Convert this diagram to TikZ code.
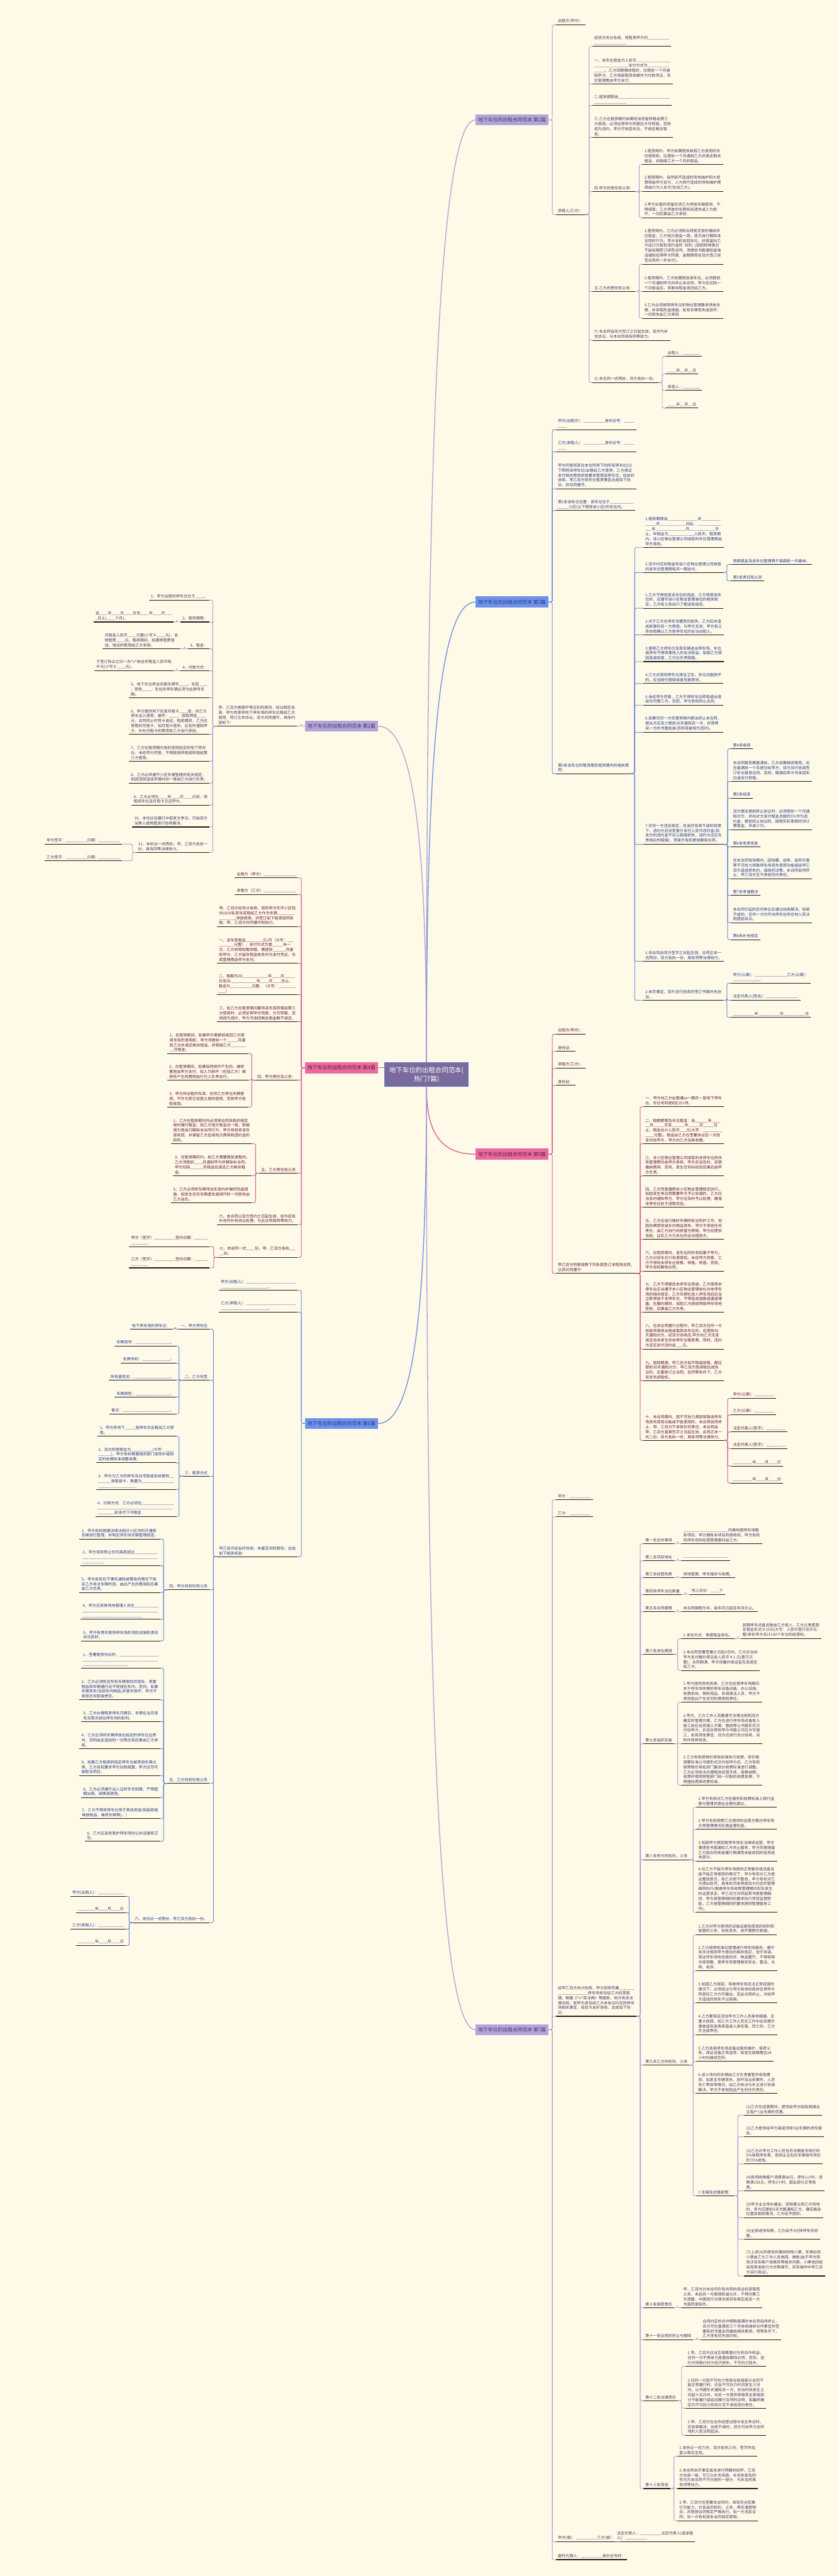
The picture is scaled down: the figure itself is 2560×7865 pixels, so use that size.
\documentclass[tikz,border=0pt]{standalone}
\usepackage{fontspec}
\usepackage{varwidth}
\setmainfont{Noto Sans CJK SC}
\XeTeXlinebreaklocale "zh"
\XeTeXlinebreakskip=0pt plus 1pt

\definecolor{bgcream}{HTML}{FFF9E8}
\definecolor{rootfill}{HTML}{7A6A9E}
\definecolor{rootline}{HTML}{5D7FD8}
\definecolor{lavfill}{HTML}{B3A5DA}
\definecolor{lavline}{HTML}{ADA1D8}
\definecolor{lavtext}{HTML}{3F3766}
\definecolor{bluefill}{HTML}{6E92EA}
\definecolor{blueline}{HTML}{6C8DDB}
\definecolor{bluetext}{HTML}{23398A}
\definecolor{pinkfill}{HTML}{EB6A9E}
\definecolor{pinkline}{HTML}{D6609A}
\definecolor{pinktext}{HTML}{5E1B3C}
\definecolor{uline}{HTML}{1E1E1E}

\newcommand\rootfont{\fontsize{20}{27}\selectfont}
\newcommand\topicfont{\fontsize{15}{18}\selectfont}
\newcommand\leaffont{\fontsize{11.7}{15}\selectfont}
% blank line of n underscores, breakable anywhere
\newcommand\bk[1]{\ifnum#1>0 \_\allowbreak\expandafter\bk\expandafter{\the\numexpr#1-1\relax}\fi}

\tikzset{
  rootnode/.style = {
    rectangle, draw=rootline, line width=1.5pt, fill=rootfill,
    text=white, font=\rootfont, align=center,
    minimum width=255pt, minimum height=73pt
  },
  topicnode/.style = {
    rectangle, font=\topicfont, minimum width=223pt,
    minimum height=34pt, inner xsep=7pt, inner ysep=4pt
  },
  lavtopic/.style  = {topicnode, fill=lavfill, text=lavtext},
  bluetopic/.style = {topicnode, fill=bluefill, text=bluetext},
  pinktopic/.style = {topicnode, fill=pinkfill, text=pinktext},
  leaf/.style = {
    font=\leaffont, inner xsep=6pt, inner ysep=5pt,
    execute at begin node={\begin{varwidth}{235pt}\raggedright},
    execute at end node={\end{varwidth}},
    append after command={(\tikzlastnode.south west)
      edge[draw=uline, line width=2pt] (\tikzlastnode.south east)}
  },
  lavr/.style  = {leaf, anchor=south west, text=lavtext},
  lavl/.style  = {leaf, anchor=south east, text=lavtext},
  bluer/.style = {leaf, anchor=south west, text=bluetext},
  bluel/.style = {leaf, anchor=south east, text=bluetext},
  pinkr/.style = {leaf, anchor=south west, text=pinktext},
  pinkl/.style = {leaf, anchor=south east, text=pinktext},
  rlink/.style = {draw=#1, line width=1.8pt, rounded corners=5pt,
    to path={-- ++(11,0) |- (\tikztotarget)}},
  llink/.style = {draw=#1, line width=1.8pt, rounded corners=5pt,
    to path={-- ++(-11,0) |- (\tikztotarget)}},
  mainlink/.style = {draw=#1, line width=2.5pt}
}

\begin{document}
\begin{tikzpicture}[x=1pt, y=-1pt]
  \fill[bgcream] (0,0) rectangle (2560,7865);
  \useasboundingbox (0,0) rectangle (2560,7865);

  % Root and the seven topics
  \node[rootnode] (root) at (1302,3281) {地下车位的出租合同范本(\\热门7篇)};
  \node[lavtopic,  anchor=east] (t1) at (1675,366)  {地下车位的出租合同范本 第1篇};
  \node[lavtopic,  anchor=west] (t2) at (931,2217)  {地下车位的出租合同范本 第2篇};
  \node[bluetopic, anchor=east] (t3) at (1675,1838) {地下车位的出租合同范本 第3篇};
  \node[pinktopic, anchor=west] (t4) at (931,3260)  {地下车位的出租合同范本 第4篇};
  \node[pinktopic, anchor=east] (t5) at (1675,3524) {地下车位的出租合同范本 第5篇};
  \node[bluetopic, anchor=west] (t6) at (931,4346)  {地下车位的出租合同范本 第6篇};
  \node[lavtopic,  anchor=east] (t7) at (1675,6197) {地下车位的出租合同范本 第7篇};

  \draw[mainlink=lavline]  (root.north) .. controls +(0,-1700) and +(-120,0) .. (t1.west);
  \draw[mainlink=blueline] (root.north) .. controls +(0,-850) and +(-120,0) .. (t3.west);
  \draw[mainlink=lavline]  (root.north) .. controls +(0,-600) and +(120,0) .. (t2.east);
  \draw[mainlink=pinkline] (t4.east) -- (t4.east -| root.west);
  \draw[mainlink=pinkline] (root.south) .. controls +(0,120) and +(-120,0) .. (t5.west);
  \draw[mainlink=blueline] (root.south) .. controls +(0,600) and +(120,0) .. (t6.east);
  \draw[mainlink=lavline]  (root.south) .. controls +(0,1700) and +(-120,0) .. (t7.west);

  % ---------------- 第1篇
  \node[lavr] (t1a) at (1697,76)  {出租方(甲方)：};
  \node[lavr] (t1b) at (1697,655) {承租人(乙方)：};
  \node[lavr] (t1b1) at (1808,142) {经双方充分协商，现租赁甲方的\bk{25}};
  \node[lavr] (t1b2) at (1808,256) {一、本车位租金为人民币\bk{32}支付方式为\bk{15}。乙方到期需续租的，应提前一个月通知甲方。乙方保留租赁收据作为付款凭证，车位管理费由甲方支付..};
  \node[lavr] (t1b3) at (1808,322) {二.租赁期限自\bk{39}};
  \node[lavr] (t1b4) at (1808,419) {三.乙方在租赁期内如需将该房屋转租给第三方使用，必须征得甲方同意后方可转租，否则视为违约，甲方可收回车位，不退还剩余租金。};
  \node[lavr] (t1b5) at (1808,585) {四.甲方的责任和义务：};
  \node[lavr] (t1b6) at (1808,890) {五.乙方的责任和义务：};
  \node[lavr] (t1b7) at (1808,1039) {六.本合同自双方签订之日起生效，现作为补充协议，与本合同具有同等效力。};
  \node[lavr] (t1b8) at (1808,1168) {七.本合同一式两份，双方各执一份。};
  \node[lavr] (t1b5a) at (1961,502) {1.租赁期内，甲方如需提前收回乙方使用的车位使用权，应提前一个月通知乙方并退还剩余租金，并赔偿乙方一个月的租金。};
  \node[lavr] (t1b5b) at (1961,584) {2.租赁期内，自然损坏造成的场地维护和大修费用由甲方支付，人为损坏造成的场地维护费用由行为人支付(包括乙方)。};
  \node[lavr] (t1b5c) at (1961,665) {3.甲方出租的房屋仅供乙方停放车辆使用，不得保管；乙方停放的车辆如有遗失或人为损坏，一切后果由乙方承担..};
  \node[lavr] (t1b6a) at (1961,807) {1.租赁期内，乙方必须按合同规定按时缴纳车位租金；乙方拖欠租金一周，视为自行解除本合同的行为。甲方有权收回车位，并保留向乙方追讨欠款和违约金的\textasciigrave{}权利..(如因特殊情况不能如期签订续签合同，须提前书面通知或电话通知征得甲方同意，逾期费用在双方签订续签合同时一并支付)。};
  \node[lavr] (t1b6b) at (1961,890) {2.租赁期内，乙方如需提前退车位，必须提前一个月通知甲方并终止本合同，甲方在扣除一个月租金后，将剩余租金退还给乙方。};
  \node[lavr] (t1b6c) at (1961,972) {3.乙方必须按照停车位和物业管理要求停放车辆，并采取防盗措施。如有车辆丢失或损坏，一切损失由乙方承担..};
  \node[lavr] (t1b8a) at (2032,1088) {出租人：\bk{8}};
  \node[lavr] (t1b8b) at (2032,1142) {\bk{4}年\bk{2}月\bk{2}日};
  \node[lavr] (t1b8c) at (2032,1192) {承租人：\bk{8}};
  \node[lavr] (t1b8d) at (2032,1246) {\bk{4}年\bk{2}月\bk{2}日};

  \path (t1.east) edge[rlink=lavline] (t1a.south west) edge[rlink=lavline] (t1b.south west);
  \path (t1b.south east)
    edge[rlink=lavline] (t1b1.south west) edge[rlink=lavline] (t1b2.south west)
    edge[rlink=lavline] (t1b3.south west) edge[rlink=lavline] (t1b4.south west)
    edge[rlink=lavline] (t1b5.south west) edge[rlink=lavline] (t1b6.south west)
    edge[rlink=lavline] (t1b7.south west) edge[rlink=lavline] (t1b8.south west);
  \path (t1b5.south east) edge[rlink=lavline] (t1b5a.south west)
    edge[rlink=lavline] (t1b5b.south west) edge[rlink=lavline] (t1b5c.south west);
  \path (t1b6.south east) edge[rlink=lavline] (t1b6a.south west)
    edge[rlink=lavline] (t1b6b.south west) edge[rlink=lavline] (t1b6c.south west);
  \path (t1b8.south east) edge[rlink=lavline] (t1b8a.south west)
    edge[rlink=lavline] (t1b8b.south west) edge[rlink=lavline] (t1b8c.south west)
    edge[rlink=lavline] (t1b8d.south west);

  % ---------------- 第2篇
  \node[lavl] (t2a) at (907,2217) {甲、乙双方根据平等互利的原则，经过相互协商，甲方同意将地下停车场的停车位租给乙方使用，特订立本协议，双方共同遵守，具体内容如下：};
  \node[lavl] (t2a1) at (640,1832) {1、甲方出租的停车位位于\bk{4}。};
  \node[lavl] (t2a2) at (640,1899) {2、租赁期限：};
  \node[lavl] (t2a2x) at (530,1899) {自\bk{4}年\bk{4}月\bk{4}日至\bk{4}年\bk{4}月\bk{4}日止(\bk{4}个月)。};
  \node[lavl] (t2a3) at (640,1981) {3、租金：};
  \node[lavl] (t2a3x) at (550,1981) {月租金人民币\bk{4}元整(小写￥\bk{4}元)，含物管费\bk{4}元。租用期间，如遇物管费增加，增加的费用由乙方承担。};
  \node[lavl] (t2a4) at (640,2048) {4、付款方式：};
  \node[lavl] (t2a4x) at (530,2048) {于签订协议之日一次\textasciicircum{}v\textasciicircum{}纳全年租金人民币陆仟元(小写￥\bk{4}元)。};
  \node[lavl] (t2a5) at (640,2130) {5、地下车位停泊车辆车牌号\bk{4}，车型\bk{4}，颜色\bk{4}，车位所停车辆必须为此牌号车辆。};
  \node[lavl] (t2a6) at (640,2242) {6、甲方提供地下车库月租卡\bk{4}张，供乙方停车出入使用，编号：\bk{4}，收取押金\bk{4}元，合同终止时凭卡退还。租用期间，乙方应保管好月租卡，如月租卡遗失，应及时通知甲方，补办月租卡的费用有乙方自行承担。};
  \node[lavl] (t2a7) at (640,2324) {7、乙方在租用期内有权使用指定的地下停车位，未经甲方同意，不得随意转租或转借给第三方使用。};
  \node[lavl] (t2a8) at (640,2391) {8、乙方必须遵守小区车辆管理的有关规定，如因违规造成矛盾纠纷一律由乙方自行负责。};
  \node[lavl] (t2a9) at (640,2458) {9、乙方必须在\bk{4}年\bk{4}月\bk{4}日前，将租用车位及月租卡交还甲方。};
  \node[lavl] (t2a10) at (640,2525) {10、本协议在履行中若发生争议，可由双方当事人或物管进行协商解决。};
  \node[lavl] (t2a11) at (640,2603) {11、本协议一式两份，甲、乙双方各执一份，具有同等法律效力。};
  \node[lavl] (t2a11a) at (373,2577) {甲方签字：\bk{10}日期：\bk{10}};
  \node[lavl] (t2a11b) at (373,2628) {乙方签字：\bk{10}日期：\bk{10}};

  \path (t2.west) edge[llink=lavline] (t2a.south east);
  \path (t2a.south west)
    edge[llink=lavline] (t2a1.south east) edge[llink=lavline] (t2a2.south east)
    edge[llink=lavline] (t2a3.south east) edge[llink=lavline] (t2a4.south east)
    edge[llink=lavline] (t2a5.south east) edge[llink=lavline] (t2a6.south east)
    edge[llink=lavline] (t2a7.south east) edge[llink=lavline] (t2a8.south east)
    edge[llink=lavline] (t2a9.south east) edge[llink=lavline] (t2a10.south east)
    edge[llink=lavline] (t2a11.south east);
  \path (t2a2.south west) edge[llink=lavline] (t2a2x.south east);
  \path (t2a3.south west) edge[llink=lavline] (t2a3x.south east);
  \path (t2a4.south west) edge[llink=lavline] (t2a4x.south east);
  \path (t2a11.south west) edge[llink=lavline] (t2a11a.south east)
    edge[llink=lavline] (t2a11b.south east);

  % ---------------- 第3篇
  \node[bluer] (t3a) at (1697,1312) {甲方(出租方)：\bk{10}身份证号：\bk{9}};
  \node[bluer] (t3b) at (1697,1379) {乙方(承租人)：\bk{10}身份证号：\bk{9}};
  \node[bluer] (t3c) at (1697,1492) {甲方同意将其在本合同项下的所有停车位(以下简称该停车位)出租给乙方使用，乙方保证支付相关费用并按要求使用该停车位。经友好协商，甲乙双方就车位租赁事宜达成如下协议，并共同遵守。};
  \node[bluer] (t3d) at (1697,1559) {第1条该车位位置：该车位位于\bk{16}小区(以下简称该小区)的车位内。};
  \node[bluer] (t3e) at (1697,2362) {第2条该车位的租赁期及租赁期内的相关费用：};
  \node[bluer] (t3e1) at (1964,1671) {1.租赁期限自\bk{14}年\bk{14}月\bk{12}日起，\bk{14}年\bk{14}月\bk{12}日止，年租金为\bk{12}人民币。租赁期内，该小区物业管理公司收取的车位管理费由甲方承担。};
  \node[bluer] (t3e2) at (1964,1748) {2.双方约定的租金和该小区物业管理公司收取的该车位管理费每月一期支付。};
  \node[bluer] (t3e3) at (1964,1857) {1.乙方不得改变该车位的用途。乙方使用该车位时，应遵守该小区物业管理单位的相关规定，乙方有义务自行了解这些规定。};
  \node[bluer] (t3e4) at (1964,1938) {2.对于乙方在停车场遭受的损失，乙方应向造成损害的另一方索赔，与甲方无关；甲方有义务协助确认乙方是停车位的合法出租人。};
  \node[bluer] (t3e5) at (1964,2020) {3.使用乙方停车位及其车辆进出停车场、车位或停车不得损害他人的合法权益。如因乙方原因造成损害，乙方应负责赔偿。};
  \node[bluer] (t3e6) at (1964,2087) {4.乙方应保持停车位清洁卫生。车位设施损坏的，应当按价赔偿或者恢复原状。};
  \node[bluer] (t3e7) at (1964,2153) {5.未经甲方同意，乙方不得将车位转租或出借给任何第三方。否则，甲方有权终止合同。};
  \node[bluer] (t3e8) at (1964,2236) {6.如果任何一方在租赁期内提出终止本合同，提出方应至少提前30天通知另一方，并获得另一方的书面批准(否则将被视为违约)。};
  \node[bluer] (t3e9) at (1964,2578) {7.任何一方违反规定，在友好协商不成的前提下，违约方应向受害方支付人民币违约金(如支付的违约金不足以赔偿损失，违约方还应负责相应的赔偿)，受害方有权提前解除合同。};
  \node[bluer] (t3e10) at (1964,2935) {1.本合同自双方签字之日起生效，合同正本一式两份，双方各执一份，具有同等法律效力。};
  \node[bluer] (t3e11) at (1964,3054) {2.未尽事宜，双方另行协商并签订书面补充协议。};
  \node[bluer] (t3e2a) at (2232,1723) {首期租金及该车位管理费于每期前一天缴纳。};
  \node[bluer] (t3e2b) at (2232,1774) {第3条责任和义务};
  \node[bluer] (t3e9a) at (2232,2286) {第4条继续};
  \node[bluer] (t3e9b) at (2232,2386) {本合同服务期届满前，乙方如需继续使用，应在届满前一个月提交给甲方，双方另行协商签订车位租赁合同。否则，期满后甲方可收回车位或另行转租。};
  \node[bluer] (t3e9c) at (2232,2437) {第5条结束};
  \node[bluer] (t3e9d) at (2232,2533) {双方提出提前终止协议时，必须提前一个月通知对方，并向对方支付租金总额的5\%作为违约金。提前终止协议的，按照实际使用时间计算租金，多退少付。};
  \node[bluer] (t3e9e) at (2232,2586) {第6条免责条款};
  \node[bluer] (t3e9f) at (2232,2683) {在本合同有效期内，因地震、战争、自然灾害等不可抗力导致停车场丧失使用功能或给甲乙双方造成损失的。或政府决策，本合同自然终止，甲乙双方互不承担任何责任。};
  \node[bluer] (t3e9g) at (2232,2734) {第7条争端解决};
  \node[bluer] (t3e9h) at (2232,2817) {本合同引起的任何争议应通过协商解决。协商不成的，任何一方均可向停车位所在地人民法院提起诉讼。};
  \node[bluer] (t3e9i) at (2232,2869) {第8条补充规定};
  \node[bluer] (t3e11a) at (2232,3002) {甲方(公章)：\bk{15}乙方(公章)：\bk{13}};
  \node[bluer] (t3e11b) at (2232,3054) {法定代表人(签名)：\bk{15}};
  \node[bluer] (t3e11c) at (2232,3106) {\bk{10}年\bk{10}月\bk{10}日};

  \path (t3.east)
    edge[rlink=blueline] (t3a.south west) edge[rlink=blueline] (t3b.south west)
    edge[rlink=blueline] (t3c.south west) edge[rlink=blueline] (t3d.south west)
    edge[rlink=blueline] (t3e.south west);
  \path (t3e.south east)
    edge[rlink=blueline] (t3e1.south west) edge[rlink=blueline] (t3e2.south west)
    edge[rlink=blueline] (t3e3.south west) edge[rlink=blueline] (t3e4.south west)
    edge[rlink=blueline] (t3e5.south west) edge[rlink=blueline] (t3e6.south west)
    edge[rlink=blueline] (t3e7.south west) edge[rlink=blueline] (t3e8.south west)
    edge[rlink=blueline] (t3e9.south west) edge[rlink=blueline] (t3e10.south west)
    edge[rlink=blueline] (t3e11.south west);
  \path (t3e2.south east) edge[rlink=blueline] (t3e2a.south west)
    edge[rlink=blueline] (t3e2b.south west);
  \path (t3e9.south east)
    edge[rlink=blueline] (t3e9a.south west) edge[rlink=blueline] (t3e9b.south west)
    edge[rlink=blueline] (t3e9c.south west) edge[rlink=blueline] (t3e9d.south west)
    edge[rlink=blueline] (t3e9e.south west) edge[rlink=blueline] (t3e9f.south west)
    edge[rlink=blueline] (t3e9g.south west) edge[rlink=blueline] (t3e9h.south west)
    edge[rlink=blueline] (t3e9i.south west);
  \path (t3e11.south east) edge[rlink=blueline] (t3e11a.south west)
    edge[rlink=blueline] (t3e11b.south west) edge[rlink=blueline] (t3e11c.south west);

  % ---------------- 第4篇
  \node[pinkl] (t4a) at (909,2680) {出租方（甲方）\bk{15}};
  \node[pinkl] (t4b) at (909,2731) {承租方（乙方）\bk{15}};
  \node[pinkl] (t4c) at (909,2829) {甲、乙双方经充分协商，现将甲方东环小区院内101\#私家车库租给乙方作为车辆\bk{16}停放使用，并签订如下租赁保同条款，甲、乙双方共同遵守和执行。};
  \node[pinkl] (t4d) at (909,2941) {一、该车库租金\bk{8}元/月（大写：\bk{10}元整），支付方式为壹\bk{5}年一交，乙方到期如需续租、需提前\bk{6}月通知甲方，乙方留存租金收条作为支付凭证，车库管理费由甲方支付。};
  \node[pinkl] (t4e) at (909,3037) {二、租期为20\bk{12}年\bk{4}月\bk{5}日至20\bk{12}年\bk{4}月\bk{4}日止，租金为\bk{10}元整，（大写：\bk{11}）};
  \node[pinkl] (t4f) at (909,3119) {三、如乙方在租赁期间要将该车库转租给第三方使用时，必须征得甲方同意，方可转租，否则视为违约，甲方可收回剩余租金概不退还。};
  \node[pinkl] (t4g) at (909,3298) {四、甲方责任及义务：};
  \node[pinkl] (t4h) at (909,3582) {五、乙方责任和义务};
  \node[pinkl] (t4i) at (909,3739) {六、本合同以双方签约之日起生效，如今后有补充作补充协议处理，与此合同具同等效力。};
  \node[pinkl] (t4j) at (909,3839) {七、本合同一式\bk{4}份，甲、乙双方各执\bk{5}份。};
  \node[pinkl] (t4g1) at (757,3217) {1、在租赁期间，如果甲方需提前收回乙方使用车库的使用权，甲方须提前一个\bk{5}月通知乙方并退还剩余租金，并赔偿乙方\bk{9}月租金。};
  \node[pinkl] (t4g2) at (757,3298) {2、在租赁期间，如果自然损坏产生的。维修费用由甲方支付，如人为损坏（包括乙方）维修所产生的费用由行为人负责支付。};
  \node[pinkl] (t4g3) at (757,3380) {3、甲方所出租的车库，仅供乙方停泊车辆使用，不作为其它经营之类的使用，否则甲方有权收回。};
  \node[pinkl] (t4h1) at (769,3492) {1、乙方在租赁期间内必须按合同条款的规定按时缴付租金；如乙方拖欠租金达一周，即被视为是自行解除本合同行为，甲方有权将该车库收回，并保留乙方追收拖欠费用和违约金的权利。};
  \node[pinkl] (t4h2) at (769,3589) {2、在租赁期间内，如乙方需要提前退租的，乙方须提前\bk{4}月通知甲方并解除本合同，甲方扣除\bk{6}月租金后退还乙方剩余租金。};
  \node[pinkl] (t4h3) at (769,3672) {3、乙方必须将车辆停泊车库内并做好防盗措施，如发生任何车辆遗失或损坏的一切损失由乙方自负。};
  \node[pinkl] (t4j1) at (640,3806) {甲方（签字）\bk{10}签约日期：\bk{14}};
  \node[pinkl] (t4j2) at (640,3871) {乙方（签字）\bk{10}签约日期：\bk{14}};

  \path (t4.west)
    edge[llink=pinkline] (t4a.south east) edge[llink=pinkline] (t4b.south east)
    edge[llink=pinkline] (t4c.south east) edge[llink=pinkline] (t4d.south east)
    edge[llink=pinkline] (t4e.south east) edge[llink=pinkline] (t4f.south east)
    edge[llink=pinkline] (t4g.south east) edge[llink=pinkline] (t4h.south east)
    edge[llink=pinkline] (t4i.south east) edge[llink=pinkline] (t4j.south east);
  \path (t4g.south west) edge[llink=pinkline] (t4g1.south east)
    edge[llink=pinkline] (t4g2.south east) edge[llink=pinkline] (t4g3.south east);
  \path (t4h.south west) edge[llink=pinkline] (t4h1.south east)
    edge[llink=pinkline] (t4h2.south east) edge[llink=pinkline] (t4h3.south east);
  \path (t4j.south west) edge[llink=pinkline] (t4j1.south east)
    edge[llink=pinkline] (t4j2.south east);

  % ---------------- 第5篇
  \node[pinkr] (t5a) at (1697,3158) {出租方(甲方)：};
  \node[pinkr] (t5b) at (1697,3210) {身份证：};
  \node[pinkr] (t5c) at (1697,3262) {承租方(乙方)：};
  \node[pinkr] (t5d) at (1697,3314) {身份证：};
  \node[pinkr] (t5e) at (1697,3888) {甲乙双方同意按照下列条款签订本租赁合同，以资共同遵守：};
  \node[pinkr] (t5e1) at (1964,3379) {一、甲方向乙方出租通xx一期负一层地下停车位，车位号码是B区251号。};
  \node[pinkr] (t5e2) at (1964,3492) {二、租期期限及车位租金：自\bk{6}年\bk{6}月\bk{5}日至\bk{6}年\bk{5}月\bk{5}日止，租金合计人民币\bk{3}元(大写：\bk{13}元整)。租金由乙方在签署协议后一次性支付给甲方，甲方向乙方出具收据。};
  \node[pinkr] (t5e3) at (1964,3590) {三、本小区物业管理公司收取的本停车位的所有管理费均由甲方承担，甲方应当及时、足额缴纳费用，否则，发生任何纠纷及后果应由甲方负责。};
  \node[pinkr] (t5e4) at (1964,3686) {四、乙方同意遵照本小区物业管理规定执行。如因发生争议而需要甲方予以协调的，乙方应当及时通知甲方，甲方应及时予以处理，确保本停车位处于适租状态。};
  \node[pinkr] (t5e5) at (1964,3784) {五、乙方应自行做好车辆的安全防护工作，如因车辆受损或车内物品丢失，甲方不承担任何责任，由乙方自行向损害方索赔，甲方应提供协助，证实乙方为车位的合法租赁方。};
  \node[pinkr] (t5e6) at (1964,3881) {六、在租赁期内，该车位的所有权属于甲方。乙方对该车位只有使用权。未经甲方同意，乙方不得将本停车位转售、转租、转借。否则，甲方有权解除合同。};
  \node[pinkr] (t5e7) at (1964,4007) {七、乙方不得更改本停车位用途。乙方使用本停车位应当遵守本小区物业管理单位对本停车场的相关规定，乙方车辆在进入停车场后应当立即停放于本停车位，不得造成道路或通道堵塞。在履约期间，如因乙方原因导致停车场地受损，后果由乙方负责。};
  \node[pinkr] (t5e8) at (1964,4119) {八、在本合同履行过程中，甲乙双方任何一方如放弃继续出租或租用本车位的，应提前30天通知对方。经双方协商后,甲方向乙方无息退还尚未发生的本停车位租赁费。同时，违约方还应支付违约金\bk{3}元。};
  \node[pinkr] (t5e9) at (1964,4216) {九、租赁期满，甲乙双方如不租或续租，都应提前30天通知对方，甲乙双方就续租达成协议的，应重新订立合同。在同等条件下，乙方有优先续租权。};
  \node[pinkr] (t5e10) at (1964,4398) {十、本合同期内，因不可抗力原因导致该停车场丧失使用功能或不能使用的，本合同自然终止，甲、乙双方不承担任何责任。本合同自甲、乙双方盖章签字之日起生效，合同正本一式二份，双方各执一份，具有同等法律效力。};
  \node[pinkr] (t5e10a) at (2232,4269) {甲方(公章)：\bk{9}};
  \node[pinkr] (t5e10b) at (2232,4320) {乙方(公章)：\bk{9}};
  \node[pinkr] (t5e10c) at (2232,4372) {法定代表人(签字)：\bk{9}};
  \node[pinkr] (t5e10d) at (2232,4423) {法定代表人(签字)：\bk{9}};
  \node[pinkr] (t5e10e) at (2232,4476) {\bk{9}年\bk{4}月\bk{4}日};
  \node[pinkr] (t5e10f) at (2232,4528) {\bk{9}年\bk{4}月\bk{4}日};

  \path (t5.east)
    edge[rlink=pinkline] (t5a.south west) edge[rlink=pinkline] (t5b.south west)
    edge[rlink=pinkline] (t5c.south west) edge[rlink=pinkline] (t5d.south west)
    edge[rlink=pinkline] (t5e.south west);
  \path (t5e.south east)
    edge[rlink=pinkline] (t5e1.south west) edge[rlink=pinkline] (t5e2.south west)
    edge[rlink=pinkline] (t5e3.south west) edge[rlink=pinkline] (t5e4.south west)
    edge[rlink=pinkline] (t5e5.south west) edge[rlink=pinkline] (t5e6.south west)
    edge[rlink=pinkline] (t5e7.south west) edge[rlink=pinkline] (t5e8.south west)
    edge[rlink=pinkline] (t5e9.south west) edge[rlink=pinkline] (t5e10.south west);
  \path (t5e10.south east)
    edge[rlink=pinkline] (t5e10a.south west) edge[rlink=pinkline] (t5e10b.south west)
    edge[rlink=pinkline] (t5e10c.south west) edge[rlink=pinkline] (t5e10d.south west)
    edge[rlink=pinkline] (t5e10e.south west) edge[rlink=pinkline] (t5e10f.south west);

  % ---------------- 第6篇
  \node[bluel] (t6a) at (909,3940) {甲方(出租人)：\bk{45}。};
  \node[bluel] (t6b) at (909,4006) {乙方(承租人)：\bk{45}。};
  \node[bluel] (t6c) at (909,4753) {甲乙双方经友好协商，本着互利的原则，达成如下租赁条款：};
  \node[bluel] (t6c1) at (640,4058) {一、甲方停车位};
  \node[bluel] (t6c1x) at (526,4058) {地下停车场的停车位：};
  \node[bluel] (t6c2) at (640,4214) {二、乙方车型};
  \node[bluel] (t6c2a) at (537,4110) {车辆型号：\bk{16}。};
  \node[bluel] (t6c2b) at (537,4162) {车牌号码：\bk{13}。};
  \node[bluel] (t6c2c) at (537,4214) {所有者姓名：\bk{17}。};
  \node[bluel] (t6c2d) at (537,4266) {车辆颜色：\bk{16}。};
  \node[bluel] (t6c2e) at (537,4317) {备注：\bk{22}。};
  \node[bluel] (t6c3) at (640,4507) {三、租赁方式};
  \node[bluel] (t6c3a) at (537,4385) {1、甲方将地下\bk{5}层停车位出租给乙方使用。};
  \node[bluel] (t6c3b) at (537,4466) {2、双方同意租金为\bk{10}(大写：\bk{10})，甲方有权根据政府部门指导价或规定的收费标准调整收费。};
  \node[bluel] (t6c3c) at (537,4548) {3、甲方为乙方的停车及住宅智能系统提供\bk{8}张智能卡，数量为\bk{33}};
  \node[bluel] (t6c3d) at (537,4630) {4、付款方式：乙方必须在\bk{58}前支付下月租金};
  \node[bluel] (t6c4) at (640,4854) {四、甲方的权利和义务};
  \node[bluel] (t6c4a) at (489,4699) {1、甲方有权根据法律法规对小区内的交通和车辆进行管理，并制定停车场车辆管理规定。};
  \node[bluel] (t6c4b) at (489,4780) {2、甲方有权禁止任何高度超过\bk{56}};
  \node[bluel] (t6c4c) at (489,4862) {3、甲方有权在不事先通知或警告的情况下拖走乙方非法车辆的锁，由此产生的费用和后果由乙方负责。};
  \node[bluel] (t6c4d) at (489,4944) {4、甲方应安排场地管理人员在\bk{74}};
  \node[bluel] (t6c4e) at (489,5010) {5、甲方有责任保持停车场的消防设施和清洁状况良好。};
  \node[bluel] (t6c5) at (640,5445) {五、乙方的权利和义务};
  \node[bluel] (t6c5a) at (489,5093) {1、签署租赁协议时，\bk{74}};
  \node[bluel] (t6c5b) at (489,5190) {2、乙方必须购买所有车辆保险并锁车。贵重物品和车辆通行证不得放在车内。否则，如果车辆丢失(包括车内物品)并意外损坏，甲方不承担任何赔偿责任。};
  \node[bluel] (t6c5c) at (489,5256) {3、乙方办理租赁停车月票后，车辆在当月享有无限次进出停车场的权利。};
  \node[bluel] (t6c5d) at (489,5339) {4、乙方必须将车辆停放在指定的停车位边界内，否则由此造成的一切责任和后果由乙方承担。};
  \node[bluel] (t6c5e) at (489,5421) {5、如果乙方租用的指定停车位被其他车辆占用，乙方有权要求甲方协助疏散，甲方应尽可能配合供应。};
  \node[bluel] (t6c5f) at (489,5488) {6、乙方必须遵守出入证的专车制度。严禁超期出借、调换或使用。};
  \node[bluel] (t6c5g) at (489,5553) {7、乙方不得将停车位用于其他用途(如装卸或堆放物品、维修车辆等)。)};
  \node[bluel] (t6c5h) at (489,5622) {8、乙方应自觉爱护停车场的公共设施和卫生。};
  \node[bluel] (t6c6) at (640,5870) {六、本协议一式两份，甲乙双方各执一份。};
  \node[bluel] (t6c6a) at (384,5790) {甲方(出租人)：\bk{12}};
  \node[bluel] (t6c6b) at (384,5840) {\bk{8}年\bk{4}月\bk{4}日};
  \node[bluel] (t6c6c) at (384,5890) {乙方(承租人)：\bk{12}};
  \node[bluel] (t6c6d) at (384,5940) {\bk{8}年\bk{4}月\bk{4}日};

  \path (t6.west)
    edge[llink=blueline] (t6a.south east) edge[llink=blueline] (t6b.south east)
    edge[llink=blueline] (t6c.south east);
  \path (t6c.south west)
    edge[llink=blueline] (t6c1.south east) edge[llink=blueline] (t6c2.south east)
    edge[llink=blueline] (t6c3.south east) edge[llink=blueline] (t6c4.south east)
    edge[llink=blueline] (t6c5.south east) edge[llink=blueline] (t6c6.south east);
  \path (t6c1.south west) edge[llink=blueline] (t6c1x.south east);
  \path (t6c2.south west)
    edge[llink=blueline] (t6c2a.south east) edge[llink=blueline] (t6c2b.south east)
    edge[llink=blueline] (t6c2c.south east) edge[llink=blueline] (t6c2d.south east)
    edge[llink=blueline] (t6c2e.south east);
  \path (t6c3.south west)
    edge[llink=blueline] (t6c3a.south east) edge[llink=blueline] (t6c3b.south east)
    edge[llink=blueline] (t6c3c.south east) edge[llink=blueline] (t6c3d.south east);
  \path (t6c4.south west)
    edge[llink=blueline] (t6c4a.south east) edge[llink=blueline] (t6c4b.south east)
    edge[llink=blueline] (t6c4c.south east) edge[llink=blueline] (t6c4d.south east)
    edge[llink=blueline] (t6c4e.south east);
  \path (t6c5.south west)
    edge[llink=blueline] (t6c5a.south east) edge[llink=blueline] (t6c5b.south east)
    edge[llink=blueline] (t6c5c.south east) edge[llink=blueline] (t6c5d.south east)
    edge[llink=blueline] (t6c5e.south east) edge[llink=blueline] (t6c5f.south east)
    edge[llink=blueline] (t6c5g.south east) edge[llink=blueline] (t6c5h.south east);
  \path (t6c6.south west)
    edge[llink=blueline] (t6c6a.south east) edge[llink=blueline] (t6c6b.south east)
    edge[llink=blueline] (t6c6c.south east) edge[llink=blueline] (t6c6d.south east);

  % ---------------- 第7篇
  \node[lavr] (t7a) at (1697,4579) {甲方：\bk{10}};
  \node[lavr] (t7b) at (1697,4631) {乙方：\bk{10}};
  \node[lavr] (t7c) at (1697,6156) {经甲乙双方充分协商，甲方现将所属\bk{21}停车场承包给乙方经营管理。根据《\textasciicircum{}v\textasciicircum{}民法典》等国家、地方有关法律法规，就甲方承包给乙方本协议约定的停车场相关事宜，经双方友好协商，达成如下协议：};
  \node[lavr] (t7d) at (1697,7761) {甲方(章)：\bk{10}乙方(章)：};
  \node[lavr] (t7e) at (1697,7815) {委托代理人：\bk{10}身份证号码：};
  \node[lavr] (t7dx) at (1877,7761) {法定代表人：\bk{10}法定代表人(或承租人)：\bk{10}};

  \node[lavr] (t7c1) at (1964,4713) {第一条合作事项};
  \node[lavr] (t7c2) at (1964,4765) {第二条项目地址};
  \node[lavr] (t7c3) at (1964,4817) {第三条经营性质};
  \node[lavr] (t7c4) at (1964,4868) {第四条停车泊位数量};
  \node[lavr] (t7c5) at (1964,4921) {第五条合同期限};
  \node[lavr] (t7c6) at (1964,5051) {第六条承包费用};
  \node[lavr] (t7c7) at (1964,5324) {第七条组织实施};
  \node[lavr] (t7c8) at (1964,5678) {第八条甲方的权利、义务};
  \node[lavr] (t7c9) at (1964,6305) {第九条乙方的权利、义务};
  \node[lavr] (t7c10) at (1964,7046) {第十条保密责任};
  \node[lavr] (t7c11) at (1964,7143) {第十一条合同的终止与解除};
  \node[lavr] (t7c12) at (1964,7330) {第十二条法律责任};
  \node[lavr] (t7c13) at (1964,7598) {第十三条其他};

  \node[lavr] (t7c1x) at (2080,4713) {\bk{21}所属地面停车场服务项目，甲方拥有本项目的使用权，甲方有权将停车场的经营管理委托给乙方。};
  \node[lavr] (t7c2x) at (2080,4765) {\bk{21}};
  \node[lavr] (t7c3x) at (2080,4817) {场地管理、停车服务与收费。};
  \node[lavr] (t7c4x) at (2105,4868) {地上泊位：\bk{4}个};
  \node[lavr] (t7c5x) at (2080,4921) {本合同期限为年，自年月日起至年月日止。};
  \node[lavr] (t7c6a) at (2080,5003) {1.承包方式：季度租金承包。};
  \node[lavr] (t7c6ax) at (2261,5003) {前期停车设备设施由乙方投入，乙方以季度固定租金形式￥15元(大写：人民币壹万伍仟元整)承包甲方总计143个车位的经营权。};
  \node[lavr] (t7c6b) at (2080,5100) {2.本合同签署签署之日起3日内，乙方应当向甲方支付履约保证金人民币￥1.元(壹万元整)，合同期满，甲方将履约保证金无息退还给乙方。};
  \node[lavr] (t7c7a) at (2080,5197) {1.甲方提供场地资源，乙方在经营停车场期间关于停车场所需的停车设备设施、办公设施、收费系统、物料用品、安保保洁人员，甲方不承担因此产生任何的费用和责任。};
  \node[lavr] (t7c7b) at (2080,5324) {2.甲方、乙方工作人员要遵守法律法规和双方确定的管理方案。乙方在进行停车场设备投入施工前应当将施工方案、图纸等以书面形式交付给甲方，并且在得到甲方书面认可后方可施工，如有其他事宜，双方应进行充分协商，另附件同样有效。};
  \node[lavr] (t7c7c) at (2080,5451) {3.乙方有权按物价审批标准执行收费，将价格调整标准以书面形式交付给甲方后，乙方有权按照物价审批部门要求对收费标准进行调整。乙方必须依法办理相关经营手续，按章纳税，收费时使用财税部门统一印制的收费发票，不得擅自提高收费标准。};
  \node[lavr] (t7c8a) at (2126,5518) {1.甲方有权对乙方在服务和收费标准上践行监督与管理并提出合理化建议。};
  \node[lavr] (t7c8b) at (2126,5585) {2.甲方有权按照乙方提供的运营方案对停车场日常管理情况实施监督检查。};
  \node[lavr] (t7c8c) at (2126,5682) {3.如因甲方原因致停车场无法继续运营，甲方需提前书面通知乙方终止服务，甲方同意赔偿乙方因合同未能履行期满而未能收回的投资成本部分。};
  \node[lavr] (t7c8d) at (2126,5839) {4.在乙方不能为停车场提供正常服务或设备设施不能正常使用的情况下，甲方有权对乙方提出整改意见，如乙方拒不整改，甲方有权对乙方提出处罚，具体处罚条例按双方约定的管理细则执行(根据停车场收费管理期间实际发生的运营状态，甲乙双方共同起草书面管理细则，甲方按管理细则的要求执行项目监管职能，乙方按管理细则的要求提供管理服务工作)。};
  \node[lavr] (t7c9a) at (2126,5907) {1.乙方对甲方提供的设备设施有使用的权利和保管的义务，如有丢失、损坏需照价赔偿。};
  \node[lavr] (t7c9b) at (2126,6017) {2.乙方按照标准化管理进行停车场服务，遵守有关法规和甲方提出的相关规定，信守承诺，保证停车场地设施完好、物品整齐，不得有碍市容观瞻，使停车场管理做到安全、整洁、文明、有序。};
  \node[lavr] (t7c9c) at (2126,6115) {3.如因乙方原因，导致停车场无法正常经营的情况下，必须经过与甲方具体协商并征得甲方同意后乙方方可撤出，至此合同终止，对给甲方造成的损失予以赔偿。};
  \node[lavr] (t7c9d) at (2126,6212) {4.乙方要保证派驻甲方工作人员身体健康、无重大疾病。如乙方工作人员在工作中出现意外事故或突发疾病造成人身伤害、死亡的，乙方负全部责任。};
  \node[lavr] (t7c9e) at (2126,6294) {5.乙方承担停车场设备设施的维护、保养义务，保证设备正常运转，如发生故障需在24小时内维修完毕。};
  \node[lavr] (t7c9f) at (2126,6391) {6.进入场内的车辆由乙方负责看管并收取费用，如发生车辆丢失、损坏及治安案件、人员伤亡等异常情况，由乙方依法与车主进行协调解决，甲方不承担因此产生的任何责任。};
  \node[lavr] (t7c9g) at (2126,6704) {7.车辆及优惠政策：};
  \node[lavr] (t7c9g1) at (2272,6458) {(1)乙方在经营期间，提供给甲方临街商铺业主每户1台车辆的优惠。};
  \node[lavr] (t7c9g2) at (2272,6524) {(2)乙方提供给甲方高层领导5台车辆的停车服务。};
  \node[lavr] (t7c9g3) at (2272,6607) {(3)乙方对甲方工作人员包月车辆按市场价的5\%收取停车费，商场业主包月车辆按市场价的75\%收取。};
  \node[lavr] (t7c9g4) at (2272,6689) {(4)商场购物客户消费满88元，停车1小时。消费满158元，停车2小时，超出部分正常收费。};
  \node[lavr] (t7c9g5) at (2272,6771) {(5)甲方业主举办展会、促销需占用乙方场地的，甲方应提前3天书面通知乙方，确定展会位置及相关情况，乙方给予提供。};
  \node[lavr] (t7c9g6) at (2272,6837) {(6)全部进场车辆，乙方给予3分钟停车的优惠。};
  \node[lavr] (t7c9g7) at (2272,6949) {(7)上述(4)所提及的需持购物小票，车辆出场小票由乙方工作人员收回、做账(由于甲方商场涉及到客户退换货等相关问题，小票收回或采用其他执行方式等细节，实际操作中甲乙双方另行商议)。};
  \node[lavr] (t7c10x) at (2080,7046) {甲、乙双方对本合同负有共同的商业机密保密义务，未经另一方面授权或允许，不得向第三方透露，中国现行法律法规另有规定或另一方书面同意除外。};
  \node[lavr] (t7c11x) at (2139,7143) {合同约定的合作期限届满时本合同自然终止，双方可在届满前三个月协商继续合作事宜并签署新的书面合同缴纳相关费用，同等条件下，乙方享有优先续约权。};
  \node[lavr] (t7c12a) at (2093,7225) {1.甲、乙双方应当互相尊重对方的合作权益，任何一方不得单方面擅自解除合同，否则，违约方将赔付对方经济损失，不可抗力除外。};
  \node[lavr] (t7c12b) at (2093,7353) {2.任何一方因不可抗力导致全部或部分合同不能正常履行时，应自不可抗力时间发生三日内，以书面形式通知另一方，并自时间发生之日起十五日内，向另一方提供导致其全部或部分不能履行或延迟履行合同的证明，如最终确定为不可抗力则双方互不承担违约责任。};
  \node[lavr] (t7c12c) at (2093,7435) {3.甲、乙双方在合作经营过程中发生争议时，应协商解决。协商不成时，双方可向甲方住所地的人民法院起诉。};
  \node[lavr] (t7c13a) at (2068,7500) {1.本协议一式六份，双方各执三份，签字并加盖公章后生效。};
  \node[lavr] (t7c13b) at (2068,7598) {2.本合同未尽事宜或未进行明确的经甲、乙双方协商一致，可订立补充条款。补充条款及附件均为本合同不可分割的一部分，与本合同具有同等效力。};
  \node[lavr] (t7c13c) at (2068,7696) {3.甲、乙双方在签署本合同时，具有完全民事行为能力，对各自的权利、义务、责任清楚明白，并愿按合同规定严格执行。如一方违反合同，另一方有权按本合同规定索赔。};

  \path (t7.east)
    edge[rlink=lavline] (t7a.south west) edge[rlink=lavline] (t7b.south west)
    edge[rlink=lavline] (t7c.south west) edge[rlink=lavline] (t7d.south west)
    edge[rlink=lavline] (t7e.south west);
  \path (t7d.south east) edge[rlink=lavline] (t7dx.south west);
  \path (t7c.south east)
    edge[rlink=lavline] (t7c1.south west) edge[rlink=lavline] (t7c2.south west)
    edge[rlink=lavline] (t7c3.south west) edge[rlink=lavline] (t7c4.south west)
    edge[rlink=lavline] (t7c5.south west) edge[rlink=lavline] (t7c6.south west)
    edge[rlink=lavline] (t7c7.south west) edge[rlink=lavline] (t7c8.south west)
    edge[rlink=lavline] (t7c9.south west) edge[rlink=lavline] (t7c10.south west)
    edge[rlink=lavline] (t7c11.south west) edge[rlink=lavline] (t7c12.south west)
    edge[rlink=lavline] (t7c13.south west);
  \path (t7c1.south east) edge[rlink=lavline] (t7c1x.south west);
  \path (t7c2.south east) edge[rlink=lavline] (t7c2x.south west);
  \path (t7c3.south east) edge[rlink=lavline] (t7c3x.south west);
  \path (t7c4.south east) edge[rlink=lavline] (t7c4x.south west);
  \path (t7c5.south east) edge[rlink=lavline] (t7c5x.south west);
  \path (t7c6.south east) edge[rlink=lavline] (t7c6a.south west)
    edge[rlink=lavline] (t7c6b.south west);
  \path (t7c6a.south east) edge[rlink=lavline] (t7c6ax.south west);
  \path (t7c7.south east) edge[rlink=lavline] (t7c7a.south west)
    edge[rlink=lavline] (t7c7b.south west) edge[rlink=lavline] (t7c7c.south west);
  \path (t7c8.south east)
    edge[rlink=lavline] (t7c8a.south west) edge[rlink=lavline] (t7c8b.south west)
    edge[rlink=lavline] (t7c8c.south west) edge[rlink=lavline] (t7c8d.south west);
  \path (t7c9.south east)
    edge[rlink=lavline] (t7c9a.south west) edge[rlink=lavline] (t7c9b.south west)
    edge[rlink=lavline] (t7c9c.south west) edge[rlink=lavline] (t7c9d.south west)
    edge[rlink=lavline] (t7c9e.south west) edge[rlink=lavline] (t7c9f.south west)
    edge[rlink=lavline] (t7c9g.south west);
  \path (t7c9g.south east)
    edge[rlink=lavline] (t7c9g1.south west) edge[rlink=lavline] (t7c9g2.south west)
    edge[rlink=lavline] (t7c9g3.south west) edge[rlink=lavline] (t7c9g4.south west)
    edge[rlink=lavline] (t7c9g5.south west) edge[rlink=lavline] (t7c9g6.south west)
    edge[rlink=lavline] (t7c9g7.south west);
  \path (t7c10.south east) edge[rlink=lavline] (t7c10x.south west);
  \path (t7c11.south east) edge[rlink=lavline] (t7c11x.south west);
  \path (t7c12.south east) edge[rlink=lavline] (t7c12a.south west)
    edge[rlink=lavline] (t7c12b.south west) edge[rlink=lavline] (t7c12c.south west);
  \path (t7c13.south east) edge[rlink=lavline] (t7c13a.south west)
    edge[rlink=lavline] (t7c13b.south west) edge[rlink=lavline] (t7c13c.south west);
\end{tikzpicture}
\end{document}
